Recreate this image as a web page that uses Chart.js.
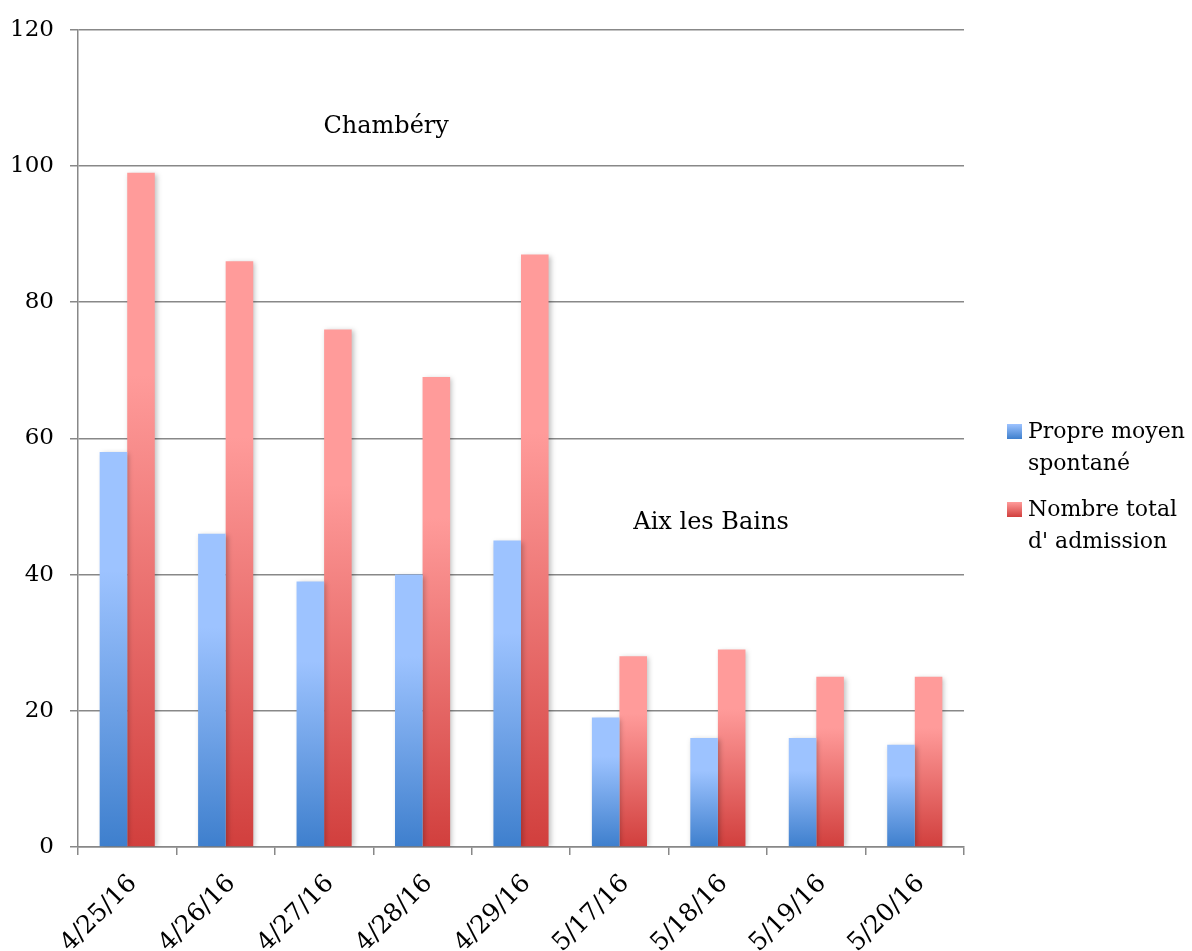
<!DOCTYPE html>
<html>
<head>
<meta charset="utf-8">
<script src="https://cdn.jsdelivr.net/npm/chart.js@4.4.0/dist/chart.umd.min.js"></script>
<style>
  html, body { margin: 0; padding: 0; background: #fff; }
  #wrap { width: 1192px; height: 951px; }
</style>
</head>
<body>
<div id="wrap"><canvas id="chart" width="1192" height="951"></canvas></div>
<script>
// data
var categories = ['4/25/16', '4/26/16', '4/27/16', '4/28/16', '4/29/16', '5/17/16', '5/18/16', '5/19/16', '5/20/16'];
var propreMoyen = [58, 46, 39, 40, 45, 19, 16, 16, 15];
var nombreTotal = [99, 86, 76, 69, 87, 28, 29, 25, 25];
var seriesNames = [['Propre moyen', 'spontané'], ['Nombre total', "d' admission"]];
var yTicks = [0, 20, 40, 60, 80, 100, 120];

var FONT = '"DejaVu Serif", "Liberation Serif", serif';

// per-bar vertical gradient, light on top, dark at base
function barGradient(light, dark) {
    return function (c) {
        var chart = c.chart;
        if (!chart.chartArea || c.parsed === undefined) return light;
        var y = chart.scales.y;
        var top = y.getPixelForValue(c.parsed.y);
        var bottom = y.getPixelForValue(0);
        if (!isFinite(top) || top === bottom) return light;
        var g = chart.ctx.createLinearGradient(0, top, 0, bottom);
        g.addColorStop(0, light);
        g.addColorStop(0.3, light);
        g.addColorStop(1, dark);
        return g;
    };
}

// text labels inside the plot + legend on the right
var extras = {
    id: 'extras',
    beforeDatasetsDraw: function (chart) {
        var ctx = chart.ctx;
        ctx.save();
        ctx.shadowColor = 'rgba(0,0,0,0.25)';
        ctx.shadowBlur = 5;
        ctx.shadowOffsetX = 2;
        ctx.shadowOffsetY = 1;
    },
    afterDatasetsDraw: function (chart) {
        chart.ctx.restore();
    },
    afterDraw: function (chart) {
        var ctx = chart.ctx;
        var x = chart.scales.x, y = chart.scales.y;
        ctx.save();
        ctx.fillStyle = '#000';
        ctx.font = '24px ' + FONT;
        ctx.textAlign = 'center';
        ctx.textBaseline = 'middle';
        var step = x.getPixelForValue(1) - x.getPixelForValue(0);
        ctx.fillText('Chambéry', x.getPixelForValue(2) + step * 0.63, y.getPixelForValue(105.7));
        ctx.fillText('Aix les Bains', x.getPixelForValue(5) + step * 0.93, y.getPixelForValue(47.6));

        // legend
        var swatches = [['#9dc3ff', '#3e7fcd'], ['#ff9b9a', '#d13f3d']];
        var starts = [424, 502];
        ctx.textAlign = 'left';
        ctx.font = '22px ' + FONT;
        for (var i = 0; i < 2; i++) {
            var by = starts[i];
            var g = ctx.createLinearGradient(0, by, 0, by + 15);
            g.addColorStop(0, swatches[i][0]);
            g.addColorStop(1, swatches[i][1]);
            ctx.fillStyle = g;
            ctx.fillRect(1007, by, 15, 15);
            ctx.fillStyle = '#000';
            ctx.fillText(seriesNames[i][0], 1028, by + 8);
            ctx.fillText(seriesNames[i][1], 1028, by + 40);
        }
        ctx.restore();
    }
};

new Chart(document.getElementById('chart').getContext('2d'), {
    type: 'bar',
    data: {
        labels: categories,
        datasets: [{
            label: seriesNames[0].join(' '),
            data: propreMoyen,
            backgroundColor: barGradient('#9dc3ff', '#3e7fcd'),
            borderWidth: 0
        }, {
            label: seriesNames[1].join(' '),
            data: nombreTotal,
            backgroundColor: barGradient('#ff9b9a', '#d13f3d'),
            borderWidth: 0
        }]
    },
    options: {
        responsive: false,
        animation: false,
        events: [],
        layout: { padding: { top: 10, right: 228, left: 0, bottom: 0 } },
        datasets: { bar: { categoryPercentage: 0.56, barPercentage: 1.0 } },
        plugins: {
            legend: { display: false },
            tooltip: { enabled: false }
        },
        scales: {
            x: {
                afterFit: function (axis) { axis.height = 104; },
                grid: {
                    display: true,
                    drawOnChartArea: false,
                    drawTicks: true,
                    tickLength: 8,
                    color: '#888',
                    lineWidth: 1.5
                },
                border: { display: true, color: '#888', width: 1.5 },
                ticks: {
                    color: '#000',
                    font: { family: FONT, size: 25 },
                    maxRotation: 45,
                    minRotation: 45,
                    padding: 14,
                    labelOffset: 6
                }
            },
            y: {
                min: 0,
                max: 120,
                afterFit: function (axis) { axis.width = 78; },
                afterBuildTicks: function (axis) {
                    axis.ticks = yTicks.map(function (v) { return { value: v }; });
                },
                grid: {
                    color: '#888',
                    lineWidth: 1.5,
                    tickLength: 8
                },
                border: { display: true, color: '#888', width: 1.5 },
                ticks: {
                    color: '#000',
                    font: { family: FONT, size: 23 },
                    padding: 16
                }
            }
        }
    },
    plugins: [extras]
});
</script>
</body>
</html>
